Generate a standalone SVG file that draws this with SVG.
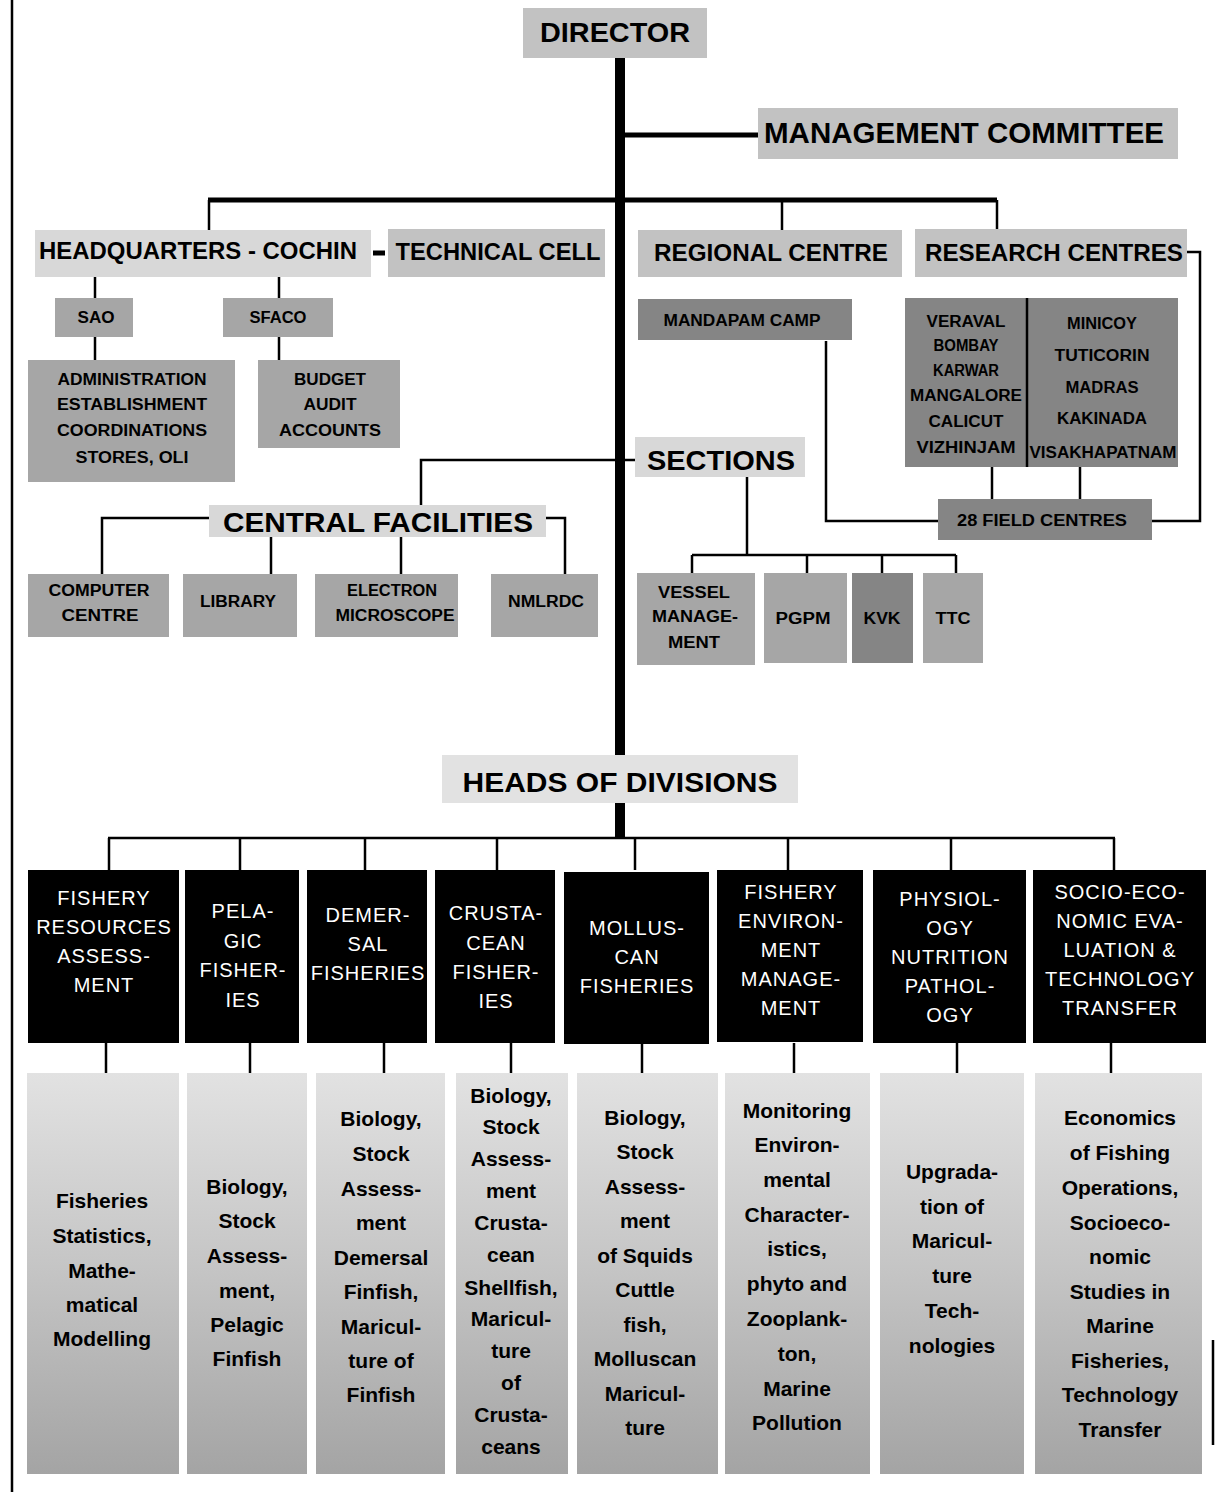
<svg xmlns="http://www.w3.org/2000/svg" width="1216" height="1492" viewBox="0 0 1216 1492">
<defs>
<linearGradient id="gBottom" x1="0" y1="0" x2="0" y2="1">
<stop offset="0" stop-color="#e2e2e2"/>
<stop offset="0.5" stop-color="#c4c4c4"/>
<stop offset="1" stop-color="#a4a4a4"/>
</linearGradient>
<style>
.hd{font-family:"Liberation Sans",Arial,sans-serif;font-weight:bold;fill:#000;text-anchor:middle}
.sm{font-family:"Liberation Sans",Arial,sans-serif;font-weight:bold;font-size:16px;fill:#000;text-anchor:middle}
.dv{font-family:"Liberation Sans",Arial,sans-serif;font-size:20px;letter-spacing:1px;fill:#fff;text-anchor:middle}
.bt{font-family:"Liberation Sans",Arial,sans-serif;font-weight:bold;font-size:21px;fill:#000;text-anchor:middle}
.l1{fill:#c2c2c2}
.l0{fill:#d8d8d8}
.l2{fill:#a6a6a6}
.l3{fill:#858585}
.blk{fill:#000}
.bb{fill:url(#gBottom)}
.ln{stroke:#000;fill:none;stroke-width:2.5}
.lt{stroke:#000;fill:none;stroke-width:5}
.sp{stroke:#000;fill:none;stroke-width:10}
</style>
</defs>
<rect width="1216" height="1492" fill="#fff"/>
<g id="connectors">
<line class="ln" x1="12" y1="0" x2="12" y2="1492" stroke-width="2"/>
<line class="ln" x1="1213" y1="1340" x2="1213" y2="1445" stroke-width="2"/>
<line class="sp" x1="620" y1="57" x2="620" y2="838"/>
<line class="lt" x1="620" y1="135" x2="758" y2="135"/>
<line class="lt" x1="208" y1="200" x2="997" y2="200"/>
<line class="ln" x1="209" y1="200" x2="209" y2="230"/>
<line class="ln" x1="782" y1="200" x2="782" y2="230"/>
<line class="ln" x1="997" y1="200" x2="997" y2="230"/>
<line class="lt" x1="373" y1="253" x2="385" y2="253" stroke-width="3"/>
<line class="ln" x1="95" y1="277" x2="95" y2="298"/>
<line class="ln" x1="95" y1="337" x2="95" y2="360"/>
<line class="ln" x1="279" y1="277" x2="279" y2="298"/>
<line class="ln" x1="279" y1="337" x2="279" y2="360"/>
<polyline class="ln" points="1187,252 1200,252 1200,521 1152,521"/>
<polyline class="ln" points="826,341 826,521 938,521"/>
<line class="ln" x1="992" y1="467" x2="992" y2="499"/>
<line class="ln" x1="1080" y1="467" x2="1080" y2="499"/>
<polyline class="ln" points="635,460 421,460 421,505" stroke-width="3"/>
<polyline class="ln" points="209,518 102,518 102,574"/>
<polyline class="ln" points="546,518 565,518 565,574"/>
<line class="ln" x1="271" y1="537" x2="271" y2="574"/>
<line class="ln" x1="401" y1="537" x2="401" y2="574"/>
<line class="ln" x1="747" y1="477" x2="747" y2="555"/>
<line class="ln" x1="692" y1="555" x2="956" y2="555" stroke-width="3"/>
<line class="ln" x1="692" y1="555" x2="692" y2="573"/>
<line class="ln" x1="807" y1="555" x2="807" y2="573"/>
<line class="ln" x1="882" y1="555" x2="882" y2="573"/>
<line class="ln" x1="956" y1="555" x2="956" y2="573"/>
<line class="ln" x1="108" y1="838" x2="1115" y2="838" stroke-width="3"/>
<line class="ln" x1="109" y1="838" x2="109" y2="870"/>
<line class="ln" x1="240" y1="838" x2="240" y2="870"/>
<line class="ln" x1="365" y1="838" x2="365" y2="870"/>
<line class="ln" x1="497" y1="838" x2="497" y2="870"/>
<line class="ln" x1="635" y1="838" x2="635" y2="870"/>
<line class="ln" x1="788" y1="838" x2="788" y2="870"/>
<line class="ln" x1="951" y1="838" x2="951" y2="870"/>
<line class="ln" x1="1114" y1="838" x2="1114" y2="870"/>
<line class="ln" x1="106" y1="1043" x2="106" y2="1073"/>
<line class="ln" x1="250" y1="1043" x2="250" y2="1073"/>
<line class="ln" x1="384" y1="1043" x2="384" y2="1073"/>
<line class="ln" x1="511" y1="1043" x2="511" y2="1073"/>
<line class="ln" x1="642" y1="1043" x2="642" y2="1073"/>
<line class="ln" x1="794" y1="1043" x2="794" y2="1073"/>
<line class="ln" x1="957" y1="1043" x2="957" y2="1073"/>
<line class="ln" x1="1111" y1="1043" x2="1111" y2="1073"/>
</g>

<g id="director"><rect class="l1" x="523" y="8" width="184" height="50"/><text class="hd" x="615" y="42" font-size="28" textLength="150" lengthAdjust="spacingAndGlyphs">DIRECTOR</text></g>
<g id="management-committee"><rect class="l1" x="758" y="108" width="420" height="51"/><text class="hd" x="964" y="143" font-size="30" textLength="400" lengthAdjust="spacingAndGlyphs">MANAGEMENT  COMMITTEE</text></g>

<g id="headquarters"><rect class="l0" x="35" y="230" width="336" height="47"/><text class="hd" x="198" y="259" font-size="23" textLength="318" lengthAdjust="spacingAndGlyphs">HEADQUARTERS - COCHIN</text></g>
<g id="technical-cell"><rect class="l1" x="388" y="229" width="217" height="48"/><text class="hd" x="498" y="260" font-size="23" textLength="205" lengthAdjust="spacingAndGlyphs">TECHNICAL CELL</text></g>
<g id="regional-centre"><rect class="l1" x="638" y="230" width="264" height="47"/><text class="hd" x="771" y="261" font-size="23" textLength="234" lengthAdjust="spacingAndGlyphs">REGIONAL CENTRE</text></g>
<g id="research-centres"><rect class="l1" x="915" y="229" width="272" height="48"/><text class="hd" x="1054" y="261" font-size="23" textLength="258" lengthAdjust="spacingAndGlyphs">RESEARCH CENTRES</text></g>

<g id="sao"><rect class="l2" x="55" y="298" width="78" height="39"/><text class="sm" x="96" y="323" textLength="37" lengthAdjust="spacingAndGlyphs">SAO</text></g>
<g id="sfaco"><rect class="l2" x="223" y="298" width="110" height="39"/><text class="sm" x="278" y="323" textLength="57" lengthAdjust="spacingAndGlyphs">SFACO</text></g>
<g id="administration"><rect class="l2" x="28" y="360" width="207" height="122"/>
<text class="sm" x="132" y="385" textLength="149" lengthAdjust="spacingAndGlyphs">ADMINISTRATION</text>
<text class="sm" x="132" y="410" textLength="150" lengthAdjust="spacingAndGlyphs">ESTABLISHMENT</text>
<text class="sm" x="132" y="436" textLength="150" lengthAdjust="spacingAndGlyphs">COORDINATIONS</text>
<text class="sm" x="132" y="463" textLength="113" lengthAdjust="spacingAndGlyphs">STORES, OLI</text></g>
<g id="budget"><rect class="l2" x="258" y="360" width="142" height="88"/>
<text class="sm" x="330" y="385" textLength="72" lengthAdjust="spacingAndGlyphs">BUDGET</text>
<text class="sm" x="330" y="410" textLength="53" lengthAdjust="spacingAndGlyphs">AUDIT</text>
<text class="sm" x="330" y="436" textLength="102" lengthAdjust="spacingAndGlyphs">ACCOUNTS</text></g>

<g id="mandapam-camp"><rect class="l3" x="638" y="299" width="214" height="41"/><text class="sm" x="742" y="326" font-size="15" textLength="157" lengthAdjust="spacingAndGlyphs">MANDAPAM CAMP</text></g>
<g id="research-stations"><rect class="l3" x="905" y="298" width="273" height="169"/>
<line x1="1027" y1="298" x2="1027" y2="467" stroke="#000" stroke-width="2.5"/>
<text class="sm" x="966" y="327" font-size="15" textLength="79" lengthAdjust="spacingAndGlyphs">VERAVAL</text>
<text class="sm" x="966" y="351" font-size="15" textLength="65" lengthAdjust="spacingAndGlyphs">BOMBAY</text>
<text class="sm" x="966" y="376" font-size="15" textLength="66" lengthAdjust="spacingAndGlyphs">KARWAR</text>
<text class="sm" x="966" y="401" font-size="15" textLength="112" lengthAdjust="spacingAndGlyphs">MANGALORE</text>
<text class="sm" x="966" y="427" font-size="15" textLength="75" lengthAdjust="spacingAndGlyphs">CALICUT</text>
<text class="sm" x="966" y="453" font-size="15" textLength="99" lengthAdjust="spacingAndGlyphs">VIZHINJAM</text>
<text class="sm" x="1102" y="329" font-size="15" textLength="70" lengthAdjust="spacingAndGlyphs">MINICOY</text>
<text class="sm" x="1102" y="361" font-size="15" textLength="95" lengthAdjust="spacingAndGlyphs">TUTICORIN</text>
<text class="sm" x="1102" y="393" font-size="15" textLength="73" lengthAdjust="spacingAndGlyphs">MADRAS</text>
<text class="sm" x="1102" y="424" font-size="15" textLength="90" lengthAdjust="spacingAndGlyphs">KAKINADA</text>
<text class="sm" x="1103" y="458" font-size="15" textLength="147" lengthAdjust="spacingAndGlyphs">VISAKHAPATNAM</text></g>
<g id="field-centres"><rect class="l3" x="938" y="499" width="214" height="41"/><text class="sm" x="1042" y="526" textLength="170" lengthAdjust="spacingAndGlyphs">28 FIELD CENTRES</text></g>

<g id="sections"><rect class="l0" x="635" y="437" width="170" height="40"/><text class="hd" x="721" y="470" font-size="28" textLength="148" lengthAdjust="spacingAndGlyphs">SECTIONS</text></g>
<g id="vessel-management"><rect class="l2" x="637" y="573" width="118" height="92"/>
<text class="sm" x="694" y="598" textLength="72" lengthAdjust="spacingAndGlyphs">VESSEL</text>
<text class="sm" x="695" y="622" textLength="86" lengthAdjust="spacingAndGlyphs">MANAGE-</text>
<text class="sm" x="694" y="648" textLength="52" lengthAdjust="spacingAndGlyphs">MENT</text></g>
<g id="pgpm"><rect class="l2" x="764" y="573" width="83" height="90"/><text class="sm" x="803" y="624" textLength="55" lengthAdjust="spacingAndGlyphs">PGPM</text></g>
<g id="kvk"><rect class="l3" x="852" y="573" width="61" height="90"/><text class="sm" x="882" y="624" textLength="37" lengthAdjust="spacingAndGlyphs">KVK</text></g>
<g id="ttc"><rect class="l2" x="923" y="573" width="60" height="90"/><text class="sm" x="953" y="624" textLength="35" lengthAdjust="spacingAndGlyphs">TTC</text></g>

<g id="central-facilities"><rect class="l0" x="209" y="505" width="337" height="32"/><text class="hd" x="378" y="532" font-size="28" textLength="310" lengthAdjust="spacingAndGlyphs">CENTRAL FACILITIES</text></g>
<g id="computer-centre"><rect class="l2" x="28" y="574" width="141" height="63"/>
<text class="sm" x="99" y="596" textLength="101" lengthAdjust="spacingAndGlyphs">COMPUTER</text>
<text class="sm" x="100" y="621" textLength="77" lengthAdjust="spacingAndGlyphs">CENTRE</text></g>
<g id="library"><rect class="l2" x="183" y="574" width="114" height="63"/><text class="sm" x="238" y="607" textLength="76" lengthAdjust="spacingAndGlyphs">LIBRARY</text></g>
<g id="electron-microscope"><rect class="l2" x="315" y="574" width="143" height="63"/>
<text class="sm" x="392" y="596" textLength="90" lengthAdjust="spacingAndGlyphs">ELECTRON</text>
<text class="sm" x="395" y="621" textLength="119" lengthAdjust="spacingAndGlyphs">MICROSCOPE</text></g>
<g id="nmlrdc"><rect class="l2" x="491" y="574" width="107" height="63"/><text class="sm" x="546" y="607" textLength="76" lengthAdjust="spacingAndGlyphs">NMLRDC</text></g>

<g id="heads-of-divisions"><rect fill="#e2e2e2" x="442" y="755" width="356" height="48"/><text class="hd" x="620" y="792" font-size="28" textLength="315" lengthAdjust="spacingAndGlyphs">HEADS OF DIVISIONS</text></g>

<g id="div-fra"><rect class="blk" x="28" y="870" width="151" height="173"/>
<text class="dv" x="104" y="905">FISHERY</text><text class="dv" x="104" y="934">RESOURCES</text><text class="dv" x="104" y="963">ASSESS-</text><text class="dv" x="104" y="992">MENT</text></g>
<g id="div-pelagic"><rect class="blk" x="185" y="870" width="114" height="173"/>
<text class="dv" x="243" y="918">PELA-</text><text class="dv" x="243" y="948">GIC</text><text class="dv" x="243" y="977">FISHER-</text><text class="dv" x="243" y="1007">IES</text></g>
<g id="div-demersal"><rect class="blk" x="307" y="870" width="120" height="173"/>
<text class="dv" x="368" y="922">DEMER-</text><text class="dv" x="368" y="951">SAL</text><text class="dv" x="368" y="980">FISHERIES</text></g>
<g id="div-crustacean"><rect class="blk" x="435" y="870" width="120" height="173"/>
<text class="dv" x="496" y="920">CRUSTA-</text><text class="dv" x="496" y="950">CEAN</text><text class="dv" x="496" y="979">FISHER-</text><text class="dv" x="496" y="1008">IES</text></g>
<g id="div-molluscan"><rect class="blk" x="564" y="872" width="145" height="172"/>
<text class="dv" x="637" y="935">MOLLUS-</text><text class="dv" x="637" y="964">CAN</text><text class="dv" x="637" y="993">FISHERIES</text></g>
<g id="div-environment"><rect class="blk" x="717" y="870" width="146" height="172"/>
<text class="dv" x="791" y="899">FISHERY</text><text class="dv" x="791" y="928">ENVIRON-</text><text class="dv" x="791" y="957">MENT</text><text class="dv" x="791" y="986">MANAGE-</text><text class="dv" x="791" y="1015">MENT</text></g>
<g id="div-physiology"><rect class="blk" x="873" y="870" width="153" height="173"/>
<text class="dv" x="950" y="906">PHYSIOL-</text><text class="dv" x="950" y="935">OGY</text><text class="dv" x="950" y="964">NUTRITION</text><text class="dv" x="950" y="993">PATHOL-</text><text class="dv" x="950" y="1022">OGY</text></g>
<g id="div-socioeconomic"><rect class="blk" x="1033" y="870" width="173" height="173"/>
<text class="dv" x="1120" y="899">SOCIO-ECO-</text><text class="dv" x="1120" y="928">NOMIC EVA-</text><text class="dv" x="1120" y="957">LUATION &amp;</text><text class="dv" x="1120" y="986">TECHNOLOGY</text><text class="dv" x="1120" y="1015">TRANSFER</text></g>

<g id="act-fra"><rect class="bb" x="27" y="1073" width="152" height="401"/>
<text class="bt" x="102" y="1208">Fisheries</text><text class="bt" x="102" y="1243">Statistics,</text><text class="bt" x="102" y="1278">Mathe-</text><text class="bt" x="102" y="1312">matical</text><text class="bt" x="102" y="1346">Modelling</text></g>
<g id="act-pelagic"><rect class="bb" x="187" y="1073" width="120" height="401"/>
<text class="bt" x="247" y="1194">Biology,</text><text class="bt" x="247" y="1228">Stock</text><text class="bt" x="247" y="1263">Assess-</text><text class="bt" x="247" y="1298">ment,</text><text class="bt" x="247" y="1332">Pelagic</text><text class="bt" x="247" y="1366">Finfish</text></g>
<g id="act-demersal"><rect class="bb" x="316" y="1073" width="129" height="401"/>
<text class="bt" x="381" y="1126">Biology,</text><text class="bt" x="381" y="1161">Stock</text><text class="bt" x="381" y="1196">Assess-</text><text class="bt" x="381" y="1230">ment</text><text class="bt" x="381" y="1265">Demersal</text><text class="bt" x="381" y="1299">Finfish,</text><text class="bt" x="381" y="1334">Maricul-</text><text class="bt" x="381" y="1368">ture of</text><text class="bt" x="381" y="1402">Finfish</text></g>
<g id="act-crustacean"><rect class="bb" x="456" y="1073" width="112" height="401"/>
<text class="bt" x="511" y="1103">Biology,</text><text class="bt" x="511" y="1134">Stock</text><text class="bt" x="511" y="1166">Assess-</text><text class="bt" x="511" y="1198">ment</text><text class="bt" x="511" y="1230">Crusta-</text><text class="bt" x="511" y="1262">cean</text><text class="bt" x="511" y="1295">Shellfish,</text><text class="bt" x="511" y="1326">Maricul-</text><text class="bt" x="511" y="1358">ture</text><text class="bt" x="511" y="1390">of</text><text class="bt" x="511" y="1422">Crusta-</text><text class="bt" x="511" y="1454">ceans</text></g>
<g id="act-molluscan"><rect class="bb" x="577" y="1073" width="141" height="401"/>
<text class="bt" x="645" y="1125">Biology,</text><text class="bt" x="645" y="1159">Stock</text><text class="bt" x="645" y="1194">Assess-</text><text class="bt" x="645" y="1228">ment</text><text class="bt" x="645" y="1263">of Squids</text><text class="bt" x="645" y="1297">Cuttle</text><text class="bt" x="645" y="1332">fish,</text><text class="bt" x="645" y="1366">Molluscan</text><text class="bt" x="645" y="1401">Maricul-</text><text class="bt" x="645" y="1435">ture</text></g>
<g id="act-environment"><rect class="bb" x="725" y="1073" width="145" height="401"/>
<text class="bt" x="797" y="1118">Monitoring</text><text class="bt" x="797" y="1152">Environ-</text><text class="bt" x="797" y="1187">mental</text><text class="bt" x="797" y="1222">Character-</text><text class="bt" x="797" y="1256">istics,</text><text class="bt" x="797" y="1291">phyto and</text><text class="bt" x="797" y="1326">Zooplank-</text><text class="bt" x="797" y="1361">ton,</text><text class="bt" x="797" y="1396">Marine</text><text class="bt" x="797" y="1430">Pollution</text></g>
<g id="act-physiology"><rect class="bb" x="880" y="1073" width="144" height="401"/>
<text class="bt" x="952" y="1179">Upgrada-</text><text class="bt" x="952" y="1214">tion of</text><text class="bt" x="952" y="1248">Maricul-</text><text class="bt" x="952" y="1283">ture</text><text class="bt" x="952" y="1318">Tech-</text><text class="bt" x="952" y="1353">nologies</text></g>
<g id="act-socioeconomic"><rect class="bb" x="1035" y="1073" width="167" height="401"/>
<text class="bt" x="1120" y="1125">Economics</text><text class="bt" x="1120" y="1160">of Fishing</text><text class="bt" x="1120" y="1195">Operations,</text><text class="bt" x="1120" y="1230">Socioeco-</text><text class="bt" x="1120" y="1264">nomic</text><text class="bt" x="1120" y="1299">Studies in</text><text class="bt" x="1120" y="1333">Marine</text><text class="bt" x="1120" y="1368">Fisheries,</text><text class="bt" x="1120" y="1402">Technology</text><text class="bt" x="1120" y="1437">Transfer</text></g>
</svg>
